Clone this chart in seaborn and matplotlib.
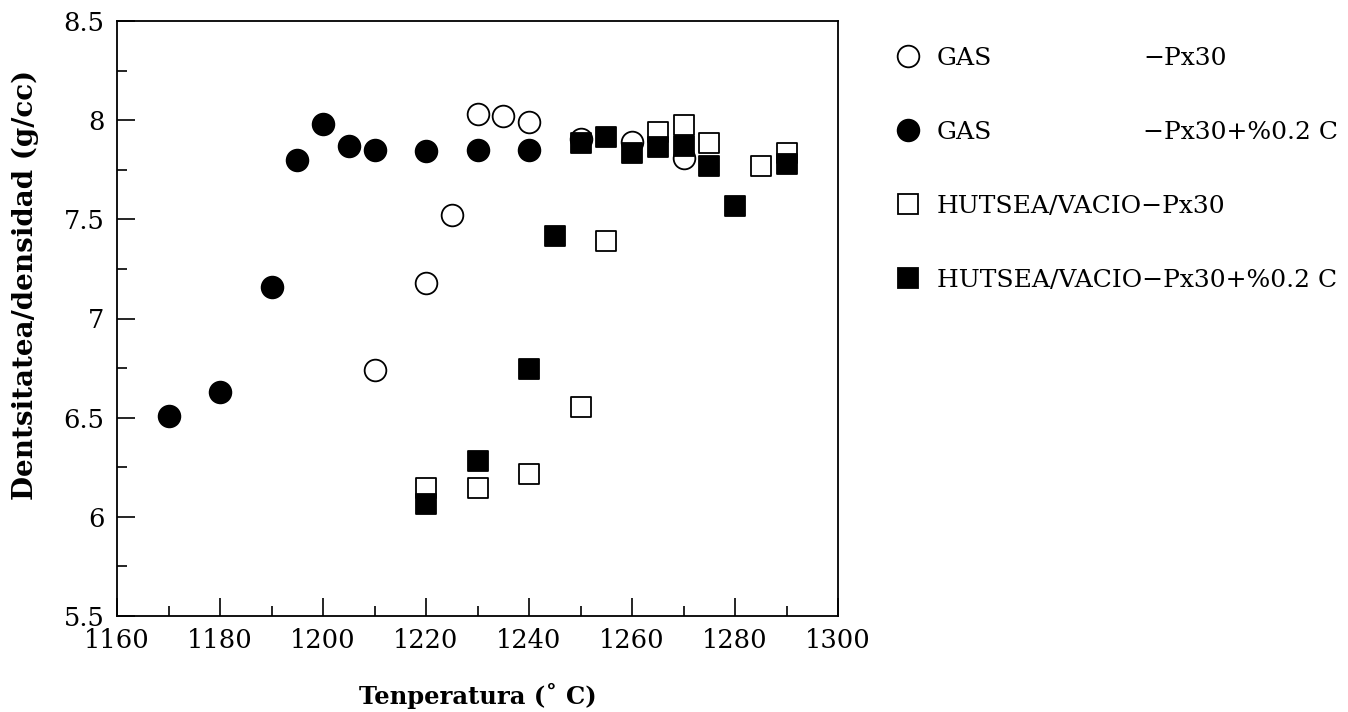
import matplotlib
matplotlib.use("Agg")
import matplotlib.pyplot as plt
from matplotlib.lines import Line2D
from matplotlib.ticker import MultipleLocator
import seaborn as sns
import pandas as pd

# ---- data ----
gas_px30_T = [1210, 1220, 1225, 1230, 1235, 1240, 1250, 1260, 1270]
gas_px30_rho = [6.74, 7.18, 7.52, 8.03, 8.02, 7.99, 7.905, 7.89, 7.81]
gas_c_T = [1170, 1180, 1190, 1195, 1200, 1205, 1210, 1220, 1230, 1240]
gas_c_rho = [6.51, 6.63, 7.16, 7.80, 7.98, 7.87, 7.85, 7.845, 7.85, 7.85]
vac_px30_T = [1220, 1230, 1240, 1250, 1255, 1265, 1270, 1275, 1285, 1290]
vac_px30_rho = [6.145, 6.145, 6.215, 6.555, 7.39, 7.94, 7.975, 7.885, 7.77, 7.835]
vac_c_T = [1220, 1230, 1240, 1245, 1250, 1255, 1260, 1265, 1270, 1275, 1280, 1290]
vac_c_rho = [6.065, 6.28, 6.745, 7.415, 7.885, 7.915, 7.835, 7.865, 7.87, 7.77, 7.567, 7.78]

legend_left = ["GAS", "GAS", "HUTSEA/VACIO\u2212Px30", "HUTSEA/VACIO\u2212Px30+%0.2 C"]
legend_right = ["\u2212Px30", "\u2212Px30+%0.2 C", "", ""]
x_ticks = [1160, 1180, 1200, 1220, 1240, 1260, 1280, 1300]
y_ticks = [5.5, 6, 6.5, 7, 7.5, 8, 8.5]
y_ticklabels = ["5.5", "6", "6.5", "7", "7.5", "8", "8.5"]

sns.set_style("ticks")
plt.rcParams["font.family"] = ["DejaVu Serif"]
plt.rcParams["mathtext.fontset"] = "dejavuserif"
for k in ["text.color", "axes.labelcolor", "xtick.color", "ytick.color", "axes.edgecolor"]:
    plt.rcParams[k] = "black"

fig = plt.figure(figsize=(13.48, 7.12), dpi=100)
ax = fig.add_axes([117 / 1348, 1 - 616 / 712, (838 - 117) / 1348, (616 - 21) / 712])

series = [
    (gas_px30_T, gas_px30_rho, "o", "white", 244),
    (gas_c_T, gas_c_rho, "o", "black", 244),
    (vac_px30_T, vac_px30_rho, "s", "white", 207),
    (vac_c_T, vac_c_rho, "s", "black", 207),
]
for T, rho, mk, fc, s in series:
    df = pd.DataFrame({"T": T, "rho": rho})
    sns.scatterplot(data=df, x="T", y="rho", marker=mk, color=fc,
                    edgecolor="black", linewidth=1.3, s=s, ax=ax, zorder=3)

ax.set_xlim(1160, 1300)
ax.set_ylim(5.5, 8.5)
ax.set_xticks(x_ticks)
ax.set_xticklabels([str(t) for t in x_ticks])
ax.set_yticks(y_ticks)
ax.set_yticklabels(y_ticklabels)
ax.xaxis.set_minor_locator(MultipleLocator(10))
ax.yaxis.set_minor_locator(MultipleLocator(0.25))
ax.tick_params(axis="both", which="major", direction="in", length=13, width=1.2,
               labelsize=18.5, pad=9, top=False, right=False, colors="black")
ax.tick_params(axis="both", which="minor", direction="in", length=7, width=1.2,
               top=False, right=False, colors="black")
for sp in ax.spines.values():
    sp.set_linewidth(1.3)
    sp.set_color("black")

ax.set_xlabel("Tenperatura (\u02da C)", fontsize=17.5, fontweight="bold", labelpad=21)
ax.set_ylabel("Dentsitatea/densidad (g/cc)", fontsize=20, fontweight="bold")
ax.yaxis.set_label_coords(-0.108, (616 - 285) / 595)

handles = [
    Line2D([], [], marker="o", linestyle="none", markersize=15.6, markerfacecolor="white",
           markeredgecolor="black", markeredgewidth=1.3),
    Line2D([], [], marker="o", linestyle="none", markersize=15.6, markerfacecolor="black",
           markeredgecolor="black", markeredgewidth=1.3),
    Line2D([], [], marker="s", linestyle="none", markersize=14.4, markerfacecolor="white",
           markeredgecolor="black", markeredgewidth=1.3),
    Line2D([], [], marker="s", linestyle="none", markersize=14.4, markerfacecolor="black",
           markeredgecolor="black", markeredgewidth=1.3),
]
leg = fig.legend(handles, legend_left, loc="upper left",
                 bbox_to_anchor=(893 / 1348, 1 - 47 / 712), frameon=False,
                 fontsize=18, labelspacing=2.04, handletextpad=0.56, handlelength=1.2,
                 borderaxespad=0, borderpad=0)
for t in leg.get_texts():
    t.set_color("black")
fig.canvas.draw()
inv = fig.transFigure.inverted()
for txt, right in zip(leg.get_texts(), legend_right):
    if right:
        bb = txt.get_window_extent()
        yc = (bb.y0 + bb.y1) / 2
        _, yf = inv.transform((0, yc))
        fig.text(1143 / 1348, yf, right, fontsize=18, va="center", ha="left", color="black")

fig.savefig("out.png", dpi=100)
